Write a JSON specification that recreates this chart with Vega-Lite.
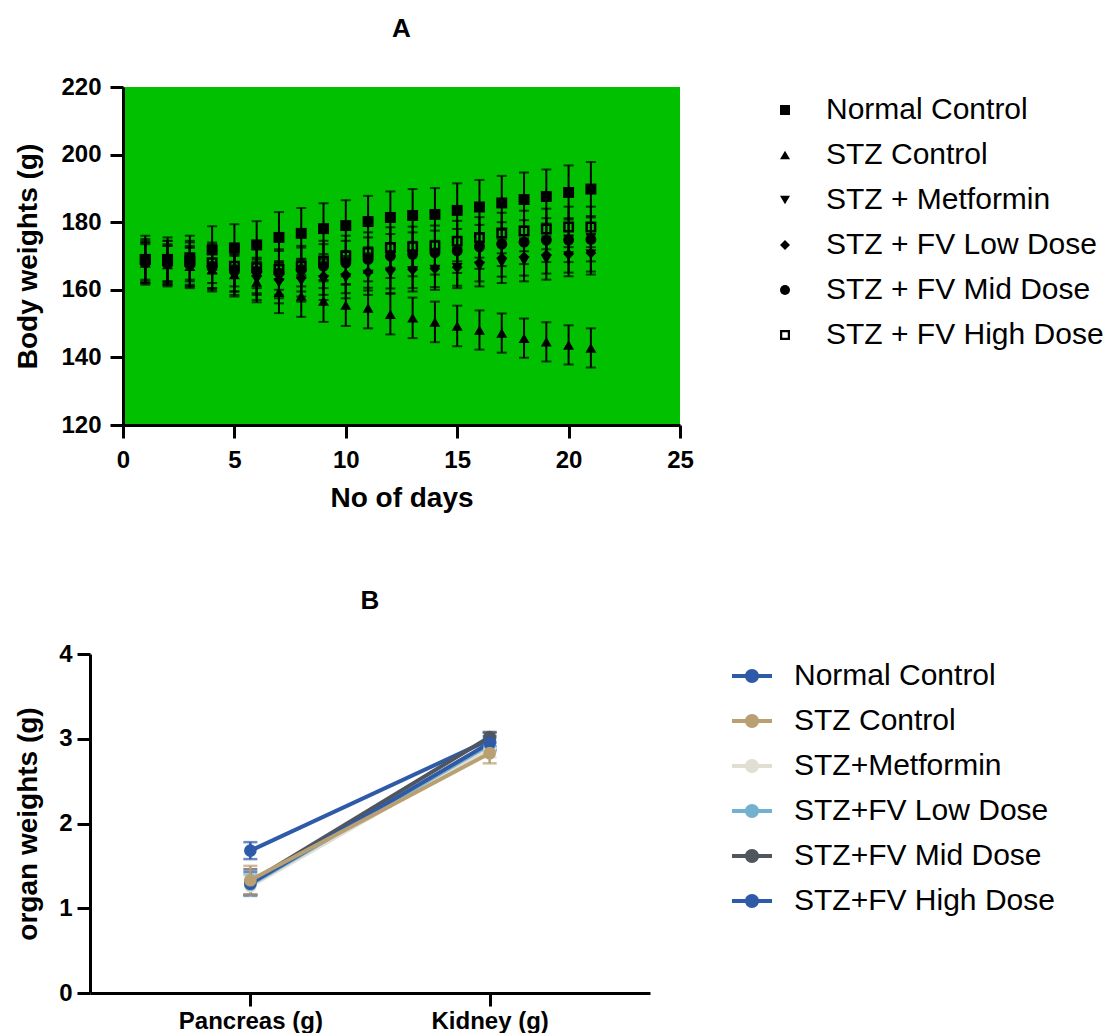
{
  "$schema": "https://vega.github.io/schema/vega-lite/v6.json",
  "padding": {"left": 14, "top": 16, "right": 0, "bottom": 0},
  "background": "white",
  "columns": 1,
  "spacing": 76,
  "align": "none",
  "bounds": "full",
  "resolve": {"legend": {"shape": "independent", "color": "independent"}},
  "datasets": {
    "body": [
      {"day":1,"group":"Normal Control","mean":169,"sem":7},{"day":2,"group":"Normal Control","mean":169,"sem":6.5},{"day":3,"group":"Normal Control","mean":169.5,"sem":6.5},{"day":4,"group":"Normal Control","mean":171.8,"sem":7},{"day":5,"group":"Normal Control","mean":172.4,"sem":7},{"day":6,"group":"Normal Control","mean":173.3,"sem":7},{"day":7,"group":"Normal Control","mean":175.5,"sem":7.5},{"day":8,"group":"Normal Control","mean":176.7,"sem":7.5},{"day":9,"group":"Normal Control","mean":178.1,"sem":7.5},{"day":10,"group":"Normal Control","mean":179,"sem":7.5},{"day":11,"group":"Normal Control","mean":180.2,"sem":7.6},{"day":12,"group":"Normal Control","mean":181.4,"sem":7.7},{"day":13,"group":"Normal Control","mean":182,"sem":7.8},{"day":14,"group":"Normal Control","mean":182.3,"sem":7.8},{"day":15,"group":"Normal Control","mean":183.5,"sem":8},{"day":16,"group":"Normal Control","mean":184.5,"sem":8},{"day":17,"group":"Normal Control","mean":185.7,"sem":8},{"day":18,"group":"Normal Control","mean":186.7,"sem":8},{"day":19,"group":"Normal Control","mean":187.6,"sem":8},{"day":20,"group":"Normal Control","mean":188.8,"sem":8},{"day":21,"group":"Normal Control","mean":189.8,"sem":8},
      {"day":1,"group":"STZ Control","mean":168,"sem":6},{"day":2,"group":"STZ Control","mean":167.5,"sem":6},{"day":3,"group":"STZ Control","mean":167,"sem":6},{"day":4,"group":"STZ Control","mean":166,"sem":6},{"day":5,"group":"STZ Control","mean":164.5,"sem":6},{"day":6,"group":"STZ Control","mean":162.3,"sem":6},{"day":7,"group":"STZ Control","mean":159.3,"sem":6.2},{"day":8,"group":"STZ Control","mean":158.2,"sem":6.2},{"day":9,"group":"STZ Control","mean":156.7,"sem":6.2},{"day":10,"group":"STZ Control","mean":155.5,"sem":6.2},{"day":11,"group":"STZ Control","mean":154.6,"sem":6},{"day":12,"group":"STZ Control","mean":152.8,"sem":6},{"day":13,"group":"STZ Control","mean":151.7,"sem":6},{"day":14,"group":"STZ Control","mean":150.5,"sem":6},{"day":15,"group":"STZ Control","mean":149.3,"sem":6},{"day":16,"group":"STZ Control","mean":148.1,"sem":5.8},{"day":17,"group":"STZ Control","mean":147.2,"sem":5.8},{"day":18,"group":"STZ Control","mean":145.7,"sem":5.8},{"day":19,"group":"STZ Control","mean":144.6,"sem":5.8},{"day":20,"group":"STZ Control","mean":143.7,"sem":5.8},{"day":21,"group":"STZ Control","mean":142.8,"sem":5.8},
      {"day":1,"group":"STZ + Metformin","mean":168,"sem":6},{"day":2,"group":"STZ + Metformin","mean":167,"sem":6},{"day":3,"group":"STZ + Metformin","mean":166.5,"sem":6},{"day":4,"group":"STZ + Metformin","mean":165.5,"sem":6},{"day":5,"group":"STZ + Metformin","mean":164,"sem":6},{"day":6,"group":"STZ + Metformin","mean":163,"sem":6},{"day":7,"group":"STZ + Metformin","mean":162,"sem":6},{"day":8,"group":"STZ + Metformin","mean":162.5,"sem":6},{"day":9,"group":"STZ + Metformin","mean":163,"sem":6},{"day":10,"group":"STZ + Metformin","mean":163.5,"sem":6},{"day":11,"group":"STZ + Metformin","mean":164.5,"sem":6},{"day":12,"group":"STZ + Metformin","mean":165,"sem":6},{"day":13,"group":"STZ + Metformin","mean":165.5,"sem":6},{"day":14,"group":"STZ + Metformin","mean":166,"sem":6},{"day":15,"group":"STZ + Metformin","mean":166.5,"sem":6},{"day":16,"group":"STZ + Metformin","mean":167,"sem":6},{"day":17,"group":"STZ + Metformin","mean":168,"sem":6},{"day":18,"group":"STZ + Metformin","mean":168.5,"sem":6},{"day":19,"group":"STZ + Metformin","mean":169,"sem":6},{"day":20,"group":"STZ + Metformin","mean":170,"sem":6},{"day":21,"group":"STZ + Metformin","mean":170.5,"sem":6},
      {"day":1,"group":"STZ + FV Low Dose","mean":168,"sem":5.5},{"day":2,"group":"STZ + FV Low Dose","mean":167.5,"sem":5.5},{"day":3,"group":"STZ + FV Low Dose","mean":167,"sem":5.5},{"day":4,"group":"STZ + FV Low Dose","mean":166,"sem":5.5},{"day":5,"group":"STZ + FV Low Dose","mean":165,"sem":5.5},{"day":6,"group":"STZ + FV Low Dose","mean":164,"sem":5.5},{"day":7,"group":"STZ + FV Low Dose","mean":163,"sem":5.5},{"day":8,"group":"STZ + FV Low Dose","mean":163.5,"sem":5.5},{"day":9,"group":"STZ + FV Low Dose","mean":164,"sem":5.5},{"day":10,"group":"STZ + FV Low Dose","mean":164.5,"sem":5.5},{"day":11,"group":"STZ + FV Low Dose","mean":165.3,"sem":5.5},{"day":12,"group":"STZ + FV Low Dose","mean":165.9,"sem":5.5},{"day":13,"group":"STZ + FV Low Dose","mean":166,"sem":5.5},{"day":14,"group":"STZ + FV Low Dose","mean":166.3,"sem":5.5},{"day":15,"group":"STZ + FV Low Dose","mean":166.7,"sem":5.5},{"day":16,"group":"STZ + FV Low Dose","mean":168,"sem":5.5},{"day":17,"group":"STZ + FV Low Dose","mean":169.4,"sem":5.5},{"day":18,"group":"STZ + FV Low Dose","mean":169.7,"sem":5.5},{"day":19,"group":"STZ + FV Low Dose","mean":170.3,"sem":5.5},{"day":20,"group":"STZ + FV Low Dose","mean":170.6,"sem":5.5},{"day":21,"group":"STZ + FV Low Dose","mean":170.9,"sem":5.5},
      {"day":1,"group":"STZ + FV Mid Dose","mean":168,"sem":6.5},{"day":2,"group":"STZ + FV Mid Dose","mean":168,"sem":6.5},{"day":3,"group":"STZ + FV Mid Dose","mean":167.5,"sem":6.5},{"day":4,"group":"STZ + FV Mid Dose","mean":167,"sem":6.5},{"day":5,"group":"STZ + FV Mid Dose","mean":166,"sem":6.5},{"day":6,"group":"STZ + FV Mid Dose","mean":165.5,"sem":6.5},{"day":7,"group":"STZ + FV Mid Dose","mean":165,"sem":6.5},{"day":8,"group":"STZ + FV Mid Dose","mean":166,"sem":6.5},{"day":9,"group":"STZ + FV Mid Dose","mean":167,"sem":6.5},{"day":10,"group":"STZ + FV Mid Dose","mean":168,"sem":6.5},{"day":11,"group":"STZ + FV Mid Dose","mean":169,"sem":6.5},{"day":12,"group":"STZ + FV Mid Dose","mean":170,"sem":6.5},{"day":13,"group":"STZ + FV Mid Dose","mean":170.5,"sem":6.5},{"day":14,"group":"STZ + FV Mid Dose","mean":171,"sem":6.5},{"day":15,"group":"STZ + FV Mid Dose","mean":171.5,"sem":6.5},{"day":16,"group":"STZ + FV Mid Dose","mean":172.7,"sem":6.5},{"day":17,"group":"STZ + FV Mid Dose","mean":173.5,"sem":6.5},{"day":18,"group":"STZ + FV Mid Dose","mean":174.1,"sem":6.5},{"day":19,"group":"STZ + FV Mid Dose","mean":174.7,"sem":6.5},{"day":20,"group":"STZ + FV Mid Dose","mean":174.7,"sem":6.5},{"day":21,"group":"STZ + FV Mid Dose","mean":174.9,"sem":6.5},
      {"day":1,"group":"STZ + FV High Dose","mean":169,"sem":6},{"day":2,"group":"STZ + FV High Dose","mean":168.5,"sem":6},{"day":3,"group":"STZ + FV High Dose","mean":168.5,"sem":6},{"day":4,"group":"STZ + FV High Dose","mean":168,"sem":6},{"day":5,"group":"STZ + FV High Dose","mean":167,"sem":6},{"day":6,"group":"STZ + FV High Dose","mean":166.5,"sem":6},{"day":7,"group":"STZ + FV High Dose","mean":166,"sem":6},{"day":8,"group":"STZ + FV High Dose","mean":167,"sem":6},{"day":9,"group":"STZ + FV High Dose","mean":168.5,"sem":6},{"day":10,"group":"STZ + FV High Dose","mean":170,"sem":6},{"day":11,"group":"STZ + FV High Dose","mean":171,"sem":6},{"day":12,"group":"STZ + FV High Dose","mean":172.5,"sem":6},{"day":13,"group":"STZ + FV High Dose","mean":172.7,"sem":6},{"day":14,"group":"STZ + FV High Dose","mean":173,"sem":6},{"day":15,"group":"STZ + FV High Dose","mean":174.4,"sem":6},{"day":16,"group":"STZ + FV High Dose","mean":175.5,"sem":6},{"day":17,"group":"STZ + FV High Dose","mean":176.8,"sem":6},{"day":18,"group":"STZ + FV High Dose","mean":177.4,"sem":6},{"day":19,"group":"STZ + FV High Dose","mean":178,"sem":6},{"day":20,"group":"STZ + FV High Dose","mean":178.6,"sem":6},{"day":21,"group":"STZ + FV High Dose","mean":178.6,"sem":6}
    ],
    "organ": [
      {"organ":"Pancreas (g)","group":"Normal Control","mean":1.68,"sem":0.1},
      {"organ":"Kidney (g)","group":"Normal Control","mean":2.99,"sem":0.08},
      {"organ":"Pancreas (g)","group":"STZ+Metformin","mean":1.26,"sem":0.12},
      {"organ":"Kidney (g)","group":"STZ+Metformin","mean":2.88,"sem":0.1},
      {"organ":"Pancreas (g)","group":"STZ+FV Low Dose","mean":1.28,"sem":0.12},
      {"organ":"Kidney (g)","group":"STZ+FV Low Dose","mean":2.93,"sem":0.08},
      {"organ":"Pancreas (g)","group":"STZ+FV Mid Dose","mean":1.31,"sem":0.15},
      {"organ":"Kidney (g)","group":"STZ+FV Mid Dose","mean":3.02,"sem":0.06},
      {"organ":"Pancreas (g)","group":"STZ+FV High Dose","mean":1.29,"sem":0.14},
      {"organ":"Kidney (g)","group":"STZ+FV High Dose","mean":2.95,"sem":0.08},
      {"organ":"Pancreas (g)","group":"STZ Control","mean":1.33,"sem":0.17},
      {"organ":"Kidney (g)","group":"STZ Control","mean":2.83,"sem":0.12}
    ]
  },
  "config": {
    "font": "Liberation Sans",
    "view": {"stroke": null},
    "axis": {
      "domainColor": "black", "domainWidth": 3, "tickColor": "black", "tickWidth": 3, "tickSize": 13,
      "labelFont": "Liberation Sans", "labelFontWeight": "bold", "labelFontSize": 24, "labelColor": "black", "labelPadding": 8,
      "titleFont": "Liberation Sans", "titleFontWeight": "bold", "titleFontSize": 28, "titleColor": "black",
      "grid": false, "labelFlush": false
    },
    "legend": {
      "labelFont": "Liberation Sans", "labelFontSize": 30, "labelColor": "black", "labelLimit": 400,
      "rowPadding": 15, "title": null, "padding": 8
    },
    "title": {"font": "Liberation Sans", "fontSize": 26, "fontWeight": "bold", "color": "black", "anchor": "middle", "offset": 33}
  },
  "concat": [
    {
      "spacing": -80,
      "resolve": {"legend": {"shape": "independent"}},
      "hconcat": [
        {
          "width": 1, "height": 1,
          "data": {"values": [{"v": 0}]},
          "mark": {"type": "point", "opacity": 0}
        },
        {
          "title": "A",
          "width": 557, "height": 338,
          "view": {"fill": "#00C000"},
          "data": {"name": "body"},
          "encoding": {
            "x": {"field": "day", "type": "quantitative", "title": "No of days",
                  "scale": {"domain": [0, 25], "nice": false},
                  "axis": {"values": [0, 5, 10, 15, 20, 25], "labelPadding": 10, "titlePadding": 12}},
            "y": {"field": "mean", "type": "quantitative", "title": "Body weights (g)",
                  "scale": {"domain": [120, 220], "nice": false, "zero": false},
                  "axis": {"values": [120, 140, 160, 180, 200, 220], "labelPadding": 9, "titlePadding": 18}}
          },
          "layer": [
            {
              "mark": {"type": "errorbar", "ticks": {"size": 10, "thickness": 2}, "thickness": 2, "color": "black"},
              "encoding": {
                "yError": {"field": "sem"}
              }
            },
            {
              "mark": {"type": "point", "filled": true, "color": "black", "opacity": 1, "size": 120},
              "encoding": {
                "shape": {"field": "group", "type": "nominal",
                          "sort": ["Normal Control", "STZ Control", "STZ + Metformin", "STZ + FV Low Dose", "STZ + FV Mid Dose", "STZ + FV High Dose"],
                          "scale": {"domain": ["Normal Control", "STZ Control", "STZ + Metformin", "STZ + FV Low Dose", "STZ + FV Mid Dose", "STZ + FV High Dose"],
                                    "range": ["square", "triangle-up", "triangle-down", "diamond", "circle", "M-1,-1L1,-1L1,1L-1,1Z M-0.55,-0.55L-0.55,0.55L0.55,0.55L0.55,-0.55Z"]},
                          "legend": {"orient": "right", "offset": 82, "symbolSize": 100, "symbolFillColor": "black", "symbolStrokeColor": "black", "labelOffset": 26}}
              }
            }
          ]
        }
      ]
    },
    {
      "title": {"text": "B", "offset": 28},
      "width": 560, "height": 339,
      "data": {"name": "organ"},
      "encoding": {
        "x": {"field": "organ", "type": "ordinal", "sort": ["Pancreas (g)", "Kidney (g)"], "title": null,
              "scale": {"type": "point", "padding": 0.67},
              "axis": {"labelAngle": 0, "labelPadding": 3}},
        "y": {"field": "mean", "type": "quantitative", "title": "organ weights (g)",
              "scale": {"domain": [0, 4], "nice": false},
              "axis": {"values": [0, 1, 2, 3, 4], "format": "d", "labelPadding": 5, "titlePadding": 16}},
        "color": {"field": "group", "type": "nominal",
                  "scale": {"domain": ["Normal Control", "STZ Control", "STZ+Metformin", "STZ+FV Low Dose", "STZ+FV Mid Dose", "STZ+FV High Dose"],
                            "range": ["#2E5AA7", "#B9A073", "#E2DED3", "#73B1CE", "#50565E", "#2E5AA7"]},
                  "legend": {"orient": "right", "offset": 80, "padding": 2, "rowPadding": 10, "symbolType": "M-1,-0.1L-0.3,-0.1L-0.3,0.1L-1,0.1Z M0.3,-0.1L1,-0.1L1,0.1L0.3,0.1Z M-0.35,0A0.35,0.35 0 1,1 0.35,0A0.35,0.35 0 1,1 -0.35,0Z",
                             "symbolSize": 1600, "symbolStrokeWidth": 0, "labelOffset": 22,
                             "encode": {"symbols": {"update": {"fill": {"scale": "color", "field": "value"}, "stroke": {"value": "transparent"}, "opacity": {"value": 1}}}}}}
      },
      "layer": [
        {
          "mark": {"type": "errorbar", "ticks": {"size": 14, "thickness": 2.5}, "thickness": 2.5},
          "encoding": {
            "yError": {"field": "sem"}
          }
        },
        {
          "mark": {"type": "line", "strokeWidth": 4}
        },
        {
          "mark": {"type": "point", "filled": true, "opacity": 1, "size": 160}
        }
      ]
    }
  ]
}
